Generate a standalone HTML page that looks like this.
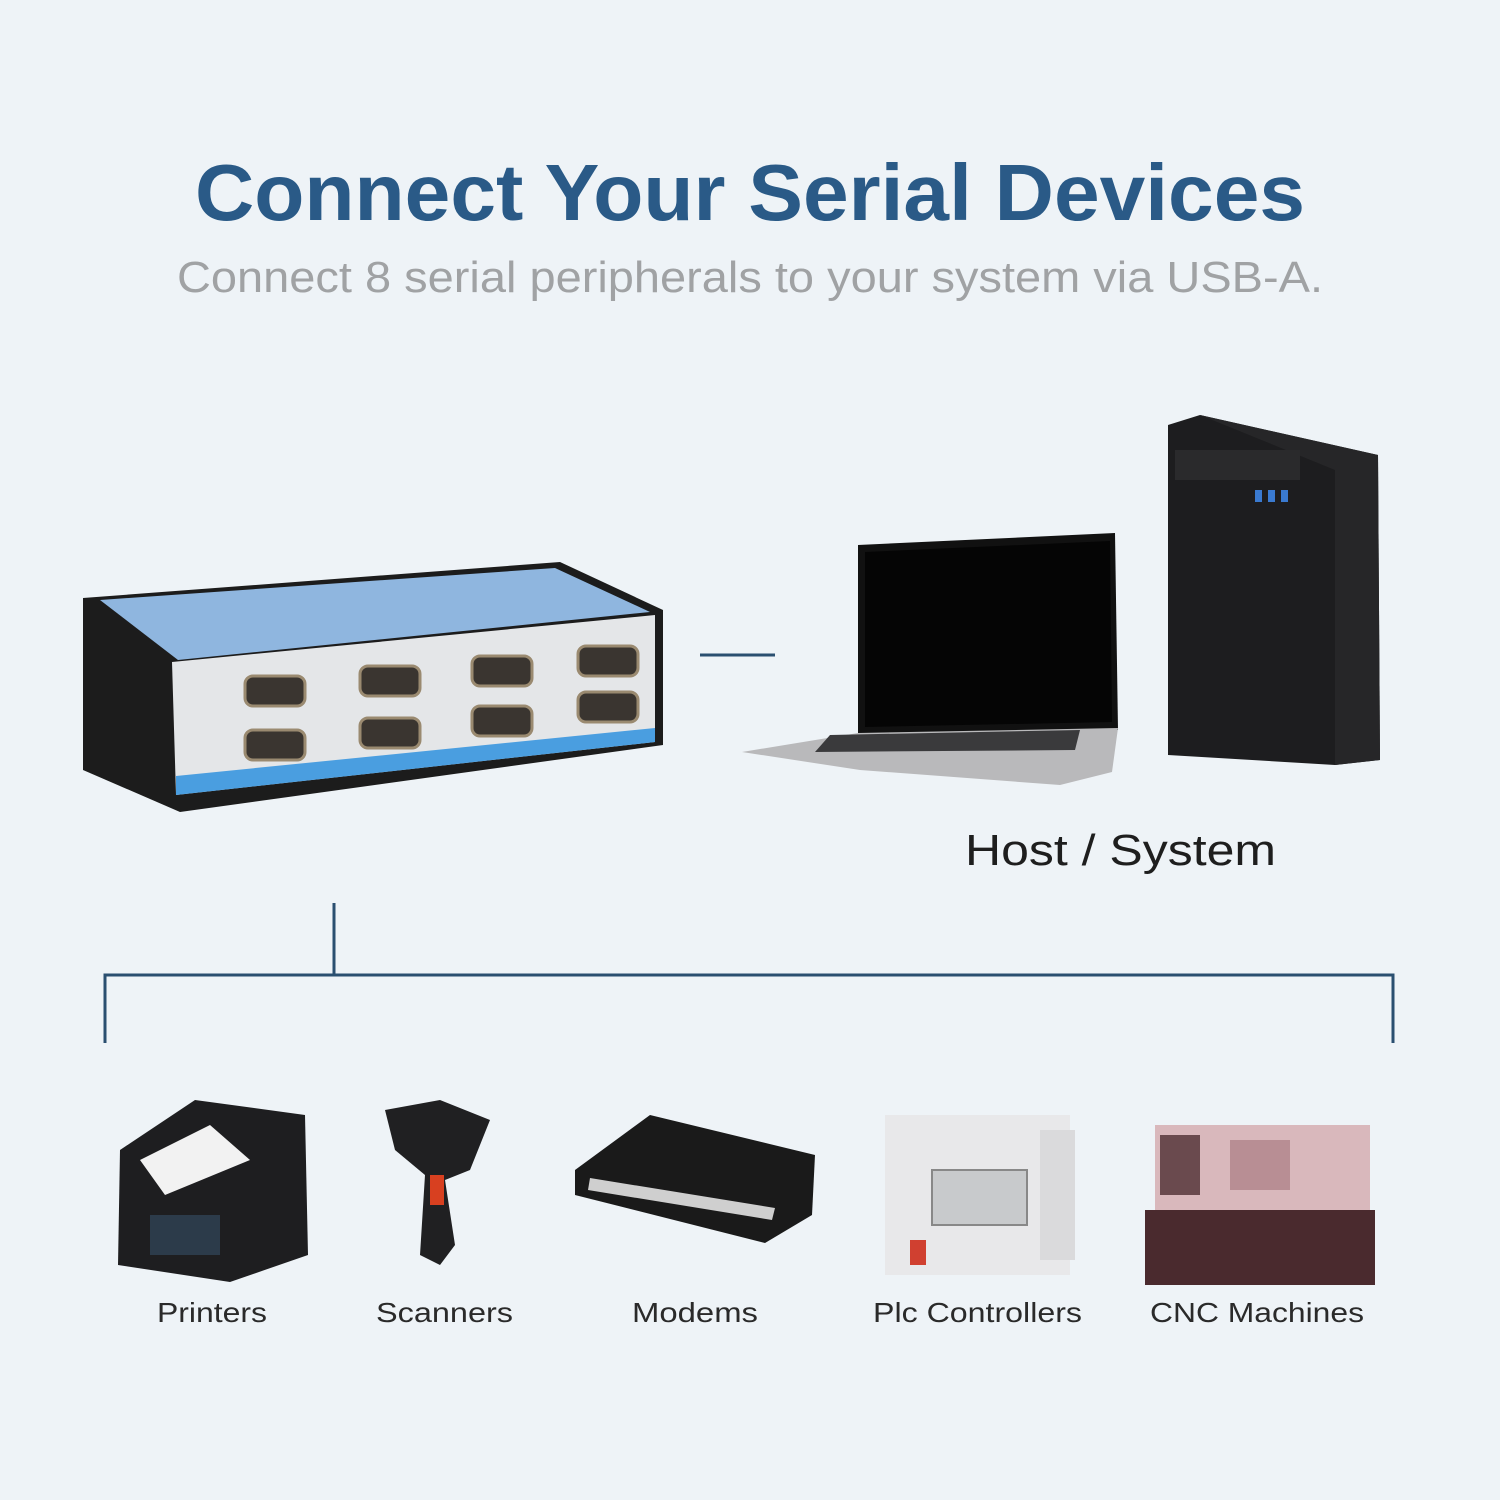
<!DOCTYPE html>
<html><head><meta charset="utf-8"><style>
html,body{margin:0;padding:0;background:#eef3f7;}
svg{display:block}
text{font-family:"Liberation Sans",sans-serif}
</style></head><body>
<svg width="1500" height="1500" viewBox="0 0 1500 1500" xmlns="http://www.w3.org/2000/svg">
<rect width="1500" height="1500" fill="#eef3f7"/>
<text x="195" y="220" font-size="80" font-weight="bold" fill="#2a5a87" textLength="1110" lengthAdjust="spacingAndGlyphs">Connect Your Serial Devices</text>
<text x="177" y="292" font-size="44" fill="#a0a2a4" textLength="1146" lengthAdjust="spacingAndGlyphs">Connect 8 serial peripherals to your system via USB-A.</text>

<!-- serial hub -->
<polygon points="83,598 560,562 663,610 663,745 180,812 83,770" fill="#1c1c1c"/>
<polygon points="100,600 555,568 650,612 178,660" fill="#8fb6df"/>
<polygon points="172,662 655,615 655,742 176,795" fill="#e4e6e8"/>
<polygon points="176,776 655,728 655,742 176,795" fill="#4a9ee0"/>
<g fill="#3a3530" stroke="#9a8a70" stroke-width="3">
<rect x="245" y="676" width="60" height="30" rx="8"/><rect x="360" y="666" width="60" height="30" rx="8"/>
<rect x="472" y="656" width="60" height="30" rx="8"/><rect x="578" y="646" width="60" height="30" rx="8"/>
<rect x="245" y="730" width="60" height="30" rx="8"/><rect x="360" y="718" width="60" height="30" rx="8"/>
<rect x="472" y="706" width="60" height="30" rx="8"/><rect x="578" y="692" width="60" height="30" rx="8"/>
</g>
<line x1="700" y1="655" x2="775" y2="655" stroke="#2a4f70" stroke-width="3"/>

<!-- laptop -->
<polygon points="858,545 1115,533 1118,730 858,735" fill="#111"/>
<polygon points="865,552 1110,541 1112,722 865,727" fill="#050505"/>
<polygon points="858,733 1118,728 1112,772 1060,785 860,770 742,752" fill="#b9b9bb"/>
<polygon points="830,735 1080,730 1075,750 815,752" fill="#3a3a3c"/>

<!-- tower -->
<polygon points="1168,425 1200,415 1378,455 1380,760 1335,765 1168,755" fill="#1d1d1f"/>
<polygon points="1200,415 1378,455 1380,760 1335,765 1335,470" fill="#262628"/>
<rect x="1175" y="450" width="125" height="30" fill="#2a2a2c"/>
<g fill="#3a7ad0"><rect x="1255" y="490" width="7" height="12"/><rect x="1268" y="490" width="7" height="12"/><rect x="1281" y="490" width="7" height="12"/></g>

<text x="965" y="865" font-size="44" fill="#1e1e1e" textLength="311" lengthAdjust="spacingAndGlyphs">Host / System</text>

<g stroke="#2a4f70" stroke-width="3" fill="none">
<line x1="334" y1="903" x2="334" y2="975"/>
<polyline points="105,1043 105,975 1393,975 1393,1043"/>
</g>

<!-- printer -->
<polygon points="120,1150 195,1100 305,1115 308,1255 230,1282 118,1265" fill="#1e1e20"/>
<polygon points="140,1160 210,1125 250,1160 165,1195" fill="#f2f2f2"/>
<rect x="150" y="1215" width="70" height="40" fill="#2c3b4a"/>
<!-- scanner -->
<polygon points="385,1110 440,1100 490,1120 470,1170 445,1180 455,1245 440,1265 420,1255 425,1175 395,1150" fill="#202022"/>
<rect x="430" y="1175" width="14" height="30" fill="#d84020"/>
<!-- modem -->
<polygon points="575,1170 650,1115 815,1155 812,1215 765,1243 575,1195" fill="#1a1a1a"/>
<polygon points="590,1178 775,1208 772,1220 588,1190" fill="#cfcfcf"/>
<!-- plc -->
<rect x="885" y="1115" width="185" height="160" fill="#e8e8ea"/>
<rect x="1040" y="1130" width="35" height="130" fill="#dadadc"/>
<rect x="932" y="1170" width="95" height="55" fill="#c8cacc" stroke="#888" stroke-width="2"/>
<rect x="910" y="1240" width="16" height="25" fill="#d04030"/>
<!-- cnc -->
<rect x="1155" y="1125" width="215" height="110" fill="#d9b8bc"/>
<rect x="1145" y="1210" width="230" height="75" fill="#4a2a2e"/>
<rect x="1160" y="1135" width="40" height="60" fill="#6a4a4e"/>
<rect x="1230" y="1140" width="60" height="50" fill="#b88e94"/>

<g font-size="28" fill="#2a2a2a">
<text x="157" y="1322" textLength="110" lengthAdjust="spacingAndGlyphs">Printers</text>
<text x="376" y="1322" textLength="137" lengthAdjust="spacingAndGlyphs">Scanners</text>
<text x="632" y="1322" textLength="126" lengthAdjust="spacingAndGlyphs">Modems</text>
<text x="873" y="1322" textLength="209" lengthAdjust="spacingAndGlyphs">Plc Controllers</text>
<text x="1150" y="1322" textLength="214" lengthAdjust="spacingAndGlyphs">CNC Machines</text>
</g>
</svg>
</body></html>
